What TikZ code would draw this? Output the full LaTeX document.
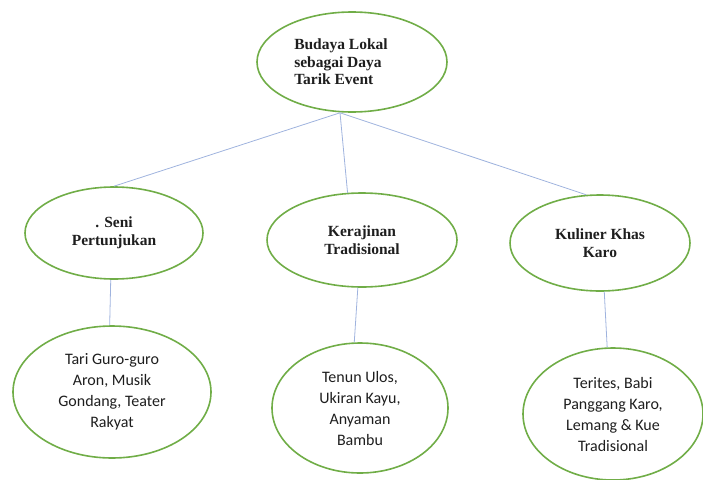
\documentclass[tikz,border=0pt]{standalone}
\usepackage{fontspec}
\usepackage{tikz}
\usetikzlibrary{shapes.geometric}
\setmainfont{Carlito}
\newfontfamily\headserif{Liberation Serif}
\definecolor{ringgreen}{HTML}{70AD47}
\definecolor{linkblue}{HTML}{9FB3DE}
\definecolor{inkgray}{HTML}{1E1E1E}
\newcommand{\headfont}{\headserif\fontsize{15.5}{17.5}\selectfont\bfseries}
\newcommand{\itemfont}{\fontsize{16}{21}\selectfont}

\tikzset{
  topic/.style={ellipse, draw=ringgreen, line width=1.6pt, inner sep=0pt,
                align=center, text=inkgray, font=\headfont},
  detail/.style={ellipse, draw=ringgreen, line width=1.6pt, inner sep=0pt,
                 align=center, text=inkgray, font=\itemfont},
  link/.style={draw=linkblue, line width=0.8pt}
}

\begin{document}
\begin{tikzpicture}[x=1pt,y=-1pt]
\useasboundingbox (0,0) rectangle (703,479);

% root
\node[topic, align=left, minimum width=190pt, minimum height=100pt] (root) at (352,62)
  {Budaya Lokal\hspace*{22pt}\\sebagai Daya\\Tarik Event};

% second row
\node[topic, minimum width=178pt, minimum height=92pt] (seni) at (114,233)
  {. Seni\\Pertunjukan};
\node[topic, minimum width=190pt, minimum height=94pt] (kerajinan) at (362,240)
  {Kerajinan\\Tradisional};
\node[topic, minimum width=180pt, minimum height=96pt] (kuliner) at (600,243)
  {Kuliner Khas\\Karo};

% third row
\node[detail, minimum width=198pt, minimum height=132pt] (tari) at (112,392)
  {Tari Guro-guro\\Aron, Musik\\Gondang, Teater\\Rakyat};
\node[detail, minimum width=176pt, minimum height=130pt] (tenun) at (360,408)
  {Tenun Ulos,\\Ukiran Kayu,\\Anyaman\\Bambu};
\node[detail, minimum width=180pt, minimum height=132pt] (terites) at (613,414)
  {Terites, Babi\\Panggang Karo,\\Lemang \& Kue\\Tradisional};

% connectors
\coordinate (hub) at ([xshift=-12pt]root.south);
\draw[link] (hub) -- (seni.north);
\draw[link] (hub) -- (kerajinan.107);
\draw[link] (hub) -- (kuliner.106);
\draw[link] (seni.266) -- (tari.92);
\draw[link] (kerajinan.265) -- (tenun.95);
\draw[link] (kuliner.275) -- (terites.95);
\end{tikzpicture}
\end{document}
